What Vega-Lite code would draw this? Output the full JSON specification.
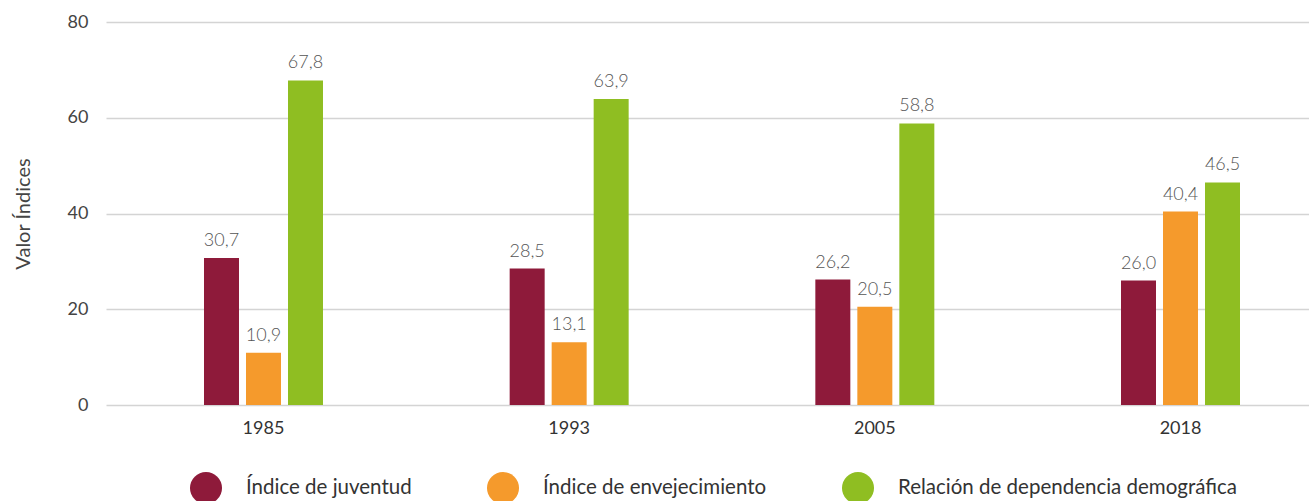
{
  "$schema": "https://vega.github.io/schema/vega-lite/v6.json",
  "width": 1203,
  "height": 383,
  "autosize": {"type": "none"},
  "padding": {"left": 106, "top": 22, "right": 0, "bottom": 96},
  "background": "white",
  "config": {
    "view": {"stroke": null},
    "font": "Lato",
    "axis": {"labelFont": "Lato", "titleFont": "Lato"},
    "legend": {"labelFont": "Lato"}
  },
  "data": {
    "values": [
      {"year": "1985", "serie": "Índice de juventud", "value": 30.7, "label": "30,7"},
      {"year": "1985", "serie": "Índice de envejecimiento", "value": 10.9, "label": "10,9"},
      {"year": "1985", "serie": "Relación de dependencia demográfica", "value": 67.8, "label": "67,8"},
      {"year": "1993", "serie": "Índice de juventud", "value": 28.5, "label": "28,5"},
      {"year": "1993", "serie": "Índice de envejecimiento", "value": 13.1, "label": "13,1"},
      {"year": "1993", "serie": "Relación de dependencia demográfica", "value": 63.9, "label": "63,9"},
      {"year": "2005", "serie": "Índice de juventud", "value": 26.2, "label": "26,2"},
      {"year": "2005", "serie": "Índice de envejecimiento", "value": 20.5, "label": "20,5"},
      {"year": "2005", "serie": "Relación de dependencia demográfica", "value": 58.8, "label": "58,8"},
      {"year": "2018", "serie": "Índice de juventud", "value": 26.0, "label": "26,0"},
      {"year": "2018", "serie": "Índice de envejecimiento", "value": 40.4, "label": "40,4"},
      {"year": "2018", "serie": "Relación de dependencia demográfica", "value": 46.5, "label": "46,5"}
    ]
  },
  "encoding": {
    "x": {
      "field": "year",
      "type": "nominal",
      "scale": {"range": [0, 1232], "paddingInner": 0.6107, "paddingOuter": 0.3206},
      "axis": {
        "title": null,
        "labelAngle": 0,
        "labelFontSize": 18,
        "labelColor": "#333333",
        "labelPadding": 14,
        "ticks": false,
        "domain": false,
        "grid": false
      }
    },
    "xOffset": {
      "field": "serie",
      "type": "nominal",
      "sort": ["Índice de juventud", "Índice de envejecimiento", "Relación de dependencia demográfica"],
      "scale": {"paddingInner": 0.1667, "paddingOuter": 0}
    },
    "y": {
      "field": "value",
      "type": "quantitative",
      "scale": {"domain": [0, 80]},
      "axis": {
        "title": "Valor Índices",
        "titleFontSize": 20,
        "titleFontWeight": "normal",
        "titleColor": "#444444",
        "titlePadding": 34,
        "values": [0, 20, 40, 60, 80],
        "labelFontSize": 18,
        "labelColor": "#444444",
        "labelPadding": 18,
        "ticks": false,
        "domain": false,
        "grid": true,
        "gridColor": "#d4d4d4",
        "gridWidth": 1.5
      }
    }
  },
  "layer": [
    {
      "mark": {"type": "bar"},
      "encoding": {
        "color": {
          "field": "serie",
          "type": "nominal",
          "sort": ["Índice de juventud", "Índice de envejecimiento", "Relación de dependencia demográfica"],
          "scale": {
            "domain": ["Índice de juventud", "Índice de envejecimiento", "Relación de dependencia demográfica"],
            "range": ["#8E1A3A", "#F59A2C", "#8FBE22"]
          },
          "legend": {
            "title": null,
            "orient": "none",
            "direction": "horizontal",
            "legendX": 84,
            "legendY": 450,
            "padding": 0,
            "symbolType": "circle",
            "symbolSize": 1024,
            "symbolStrokeWidth": 0,
            "symbolOpacity": 1,
            "labelFontSize": 20.5,
            "labelColor": "#333333",
            "labelOffset": 24,
            "columnPadding": 75,
            "labelLimit": 500
          }
        }
      }
    },
    {
      "mark": {"type": "text", "baseline": "alphabetic", "dy": -12, "fontSize": 18, "fontWeight": 300, "color": "#555555"},
      "encoding": {
        "text": {"field": "label"}
      }
    }
  ]
}
